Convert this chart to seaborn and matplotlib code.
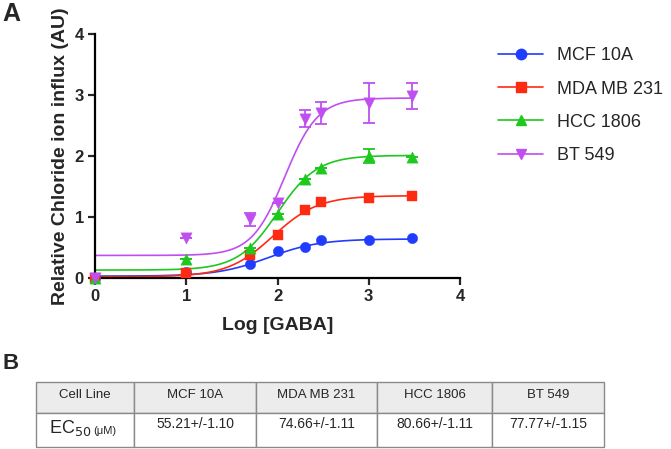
import numpy as np
import pandas as pd
import matplotlib
matplotlib.use("Agg")
import matplotlib.pyplot as plt
from matplotlib.lines import Line2D
from matplotlib.patches import Rectangle
import seaborn as sns

# ---------------- data ----------------
log_gaba = [0, 1, 1.699, 2, 2.301, 2.477, 3, 3.477]
cell_lines = ["MCF 10A", "MDA MB 231", "HCC 1806", "BT 549"]
mcf10a = [0.00, 0.10, 0.23, 0.45, 0.51, 0.62, 0.62, 0.65]
mdamb231 = [0.00, 0.08, 0.38, 0.70, 1.11, 1.24, 1.31, 1.34]
hcc1806 = [0.00, 0.31, 0.49, 1.05, 1.62, 1.80, 2.00, 1.99]
bt549 = [0.00, 0.65, 0.96, 1.23, 2.61, 2.70, 2.87, 2.98]
err_hcc1806 = [0, 0, 0, 0, 0, 0, 0.11, 0]
err_bt549 = [0, 0, 0.11, 0, 0.14, 0.18, 0.33, 0.21]

# fitted 4-parameter logistic parameters (bottom, top, logEC50, hill)
fit_bottom = [0.03, 0.02, 0.13, 0.37]
fit_top = [0.64, 1.35, 2.01, 2.95]
fit_logec50 = [1.90, 1.95, 2.00, 2.08]
fit_hill = [1.55, 1.75, 2.0, 2.4]

table_header = ["Cell Line", "MCF 10A", "MDA MB 231", "HCC 1806", "BT 549"]
table_values = ["55.21+/-1.10", "74.66+/-1.11", "80.66+/-1.11", "77.77+/-1.15"]

colors = ["#1f3cff", "#ff2a12", "#1ec81e", "#c04ff0"]
markers = ["o", "s", "^", "v"]

series = [mcf10a, mdamb231, hcc1806, bt549]
errs = [None, None, err_hcc1806, err_bt549]

# ---------------- figure ----------------
sns.set_style("white")
plt.rcParams["font.family"] = ["Liberation Sans", "DejaVu Sans"]

fig = plt.figure(figsize=(6.71, 4.49), dpi=100)
ax = fig.add_axes([95 / 671, (449 - 278) / 449, (460 - 95) / 671, (278 - 34) / 449])

xs = np.linspace(0, 3.48, 300)
rows = []
for name, b, t, m, h in zip(cell_lines, fit_bottom, fit_top, fit_logec50, fit_hill):
    ys = b + (t - b) / (1 + 10 ** ((m - xs) * h))
    rows.append(pd.DataFrame({"x": xs, "y": ys, "line": name}))
curve_df = pd.concat(rows)
sns.lineplot(data=curve_df, x="x", y="y", hue="line", palette=colors,
             hue_order=cell_lines, linewidth=1.2, legend=False, ax=ax)

pts_df = pd.concat([pd.DataFrame({"x": log_gaba, "y": s, "line": n})
                    for n, s in zip(cell_lines, series)])

for n, s, e, c in zip(cell_lines, series, errs, colors):
    if e is not None:
        ax.errorbar(log_gaba, s, yerr=e, fmt="none",
                    ecolor=c, elinewidth=1.3, capsize=4, capthick=1.3, zorder=3)

for n, c, mk in zip(cell_lines, colors, markers):
    sub = pts_df[pts_df["line"] == n]
    ms = 66 if mk in ("^", "v") else 56
    sns.scatterplot(data=sub, x="x", y="y", color=c, marker=mk, s=ms,
                    edgecolor=c, linewidth=0.3, ax=ax, zorder=4, clip_on=False,
                    legend=False)

ax.set_xlim(0, 4)
ax.set_ylim(0, 4)
ax.set_xticks([0, 1, 2, 3, 4])
ax.set_yticks([0, 1, 2, 3, 4])
for sp in ["top", "right"]:
    ax.spines[sp].set_visible(False)
for sp in ["left", "bottom"]:
    ax.spines[sp].set_linewidth(1.6)
    ax.spines[sp].set_color("black")
ax.tick_params(axis="both", direction="out", length=5, width=1.6,
               labelsize=12, pad=3, bottom=True, left=True)
for lab in ax.get_xticklabels() + ax.get_yticklabels():
    lab.set_fontweight("bold")
ax.set_xlabel("Log [GABA]", fontsize=14, fontweight="bold", labelpad=9)
ax.set_ylabel("Relative Chloride ion influx (AU)", fontsize=14,
              fontweight="bold", labelpad=4)

handles = [Line2D([0], [0], color=c, marker=mk, markersize=7.5, linewidth=1.2)
           for c, mk in zip(colors, markers)]
fig.legend(handles, cell_lines, loc="upper left",
           bbox_to_anchor=(482 / 671, 1 - 31 / 449), frameon=False,
           fontsize=13, handlelength=2.5, labelspacing=0.9, handletextpad=0.75)

fig.text(2 / 671, 1 - 2 / 449, "A", fontsize=18, fontweight="bold", va="top")
fig.text(3 / 671, 1 - 353 / 449, "B", fontsize=16, fontweight="bold", va="top")

# ---------------- table ----------------
tax = fig.add_axes([36 / 671, (449 - 447) / 449, 568 / 671, 65 / 449])
tax.set_xlim(0, 568)
tax.set_ylim(65, 0)
tax.axis("off")
col_w = [98, 122, 121, 115, 112]
edges = np.concatenate([[0], np.cumsum(col_w)])
h_head, h_body = 31, 34
for i in range(len(col_w)):
    tax.add_patch(Rectangle((edges[i], 0), col_w[i], h_head, facecolor="#ececec",
                            edgecolor="#8a8a8a", linewidth=1.0, clip_on=False))
    tax.add_patch(Rectangle((edges[i], h_head), col_w[i], h_body, facecolor="white",
                            edgecolor="#8a8a8a", linewidth=1.0, clip_on=False))
    cx = edges[i] + col_w[i] / 2
    tax.text(cx, h_head / 2 - 3, table_header[i], ha="center", va="center",
             fontsize=9.5)
    if i == 0:
        tax.text(cx + 6, h_head + h_body / 2 - 2, r"EC$_{50}$", ha="right",
                 va="center", fontsize=13)
        tax.text(cx + 8, h_head + h_body / 2 + 1, "(μM)", ha="left",
                 va="center", fontsize=8)
    else:
        tax.text(cx, h_head + h_body / 2 - 6, table_values[i - 1], ha="center",
                 va="center", fontsize=10)

fig.savefig("out.png", dpi=100)
